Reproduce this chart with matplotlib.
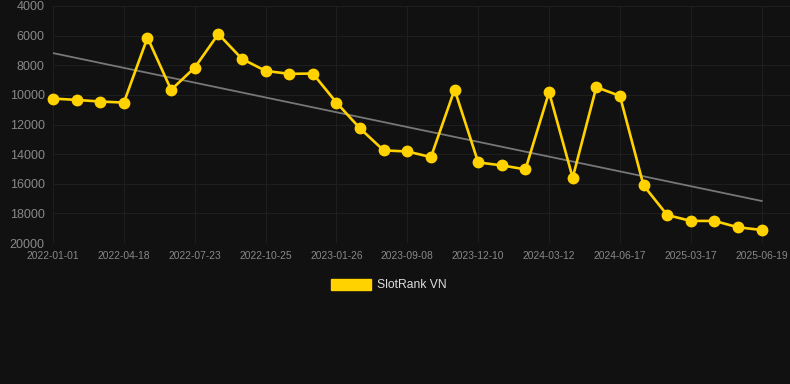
import matplotlib.pyplot as plt
import numpy as np
from matplotlib.patches import Patch

# Dates along x (categorical, evenly spaced), labels every 3rd point
dates = ["2022-01-01", "", "", "2022-04-18", "", "", "2022-07-23", "", "",
         "2022-10-25", "", "", "2023-01-26", "", "", "2023-09-08", "", "",
         "2023-12-10", "", "", "2024-03-12", "", "", "2024-06-17", "", "",
         "2025-03-17", "", "", "2025-06-19"]
ranks = [10250, 10340, 10450, 10520, 6130, 9660, 8160, 5890, 7570, 8380,
         8580, 8560, 10520, 12270, 13750, 13820, 14200, 9640, 14560, 14760,
         15030, 9820, 15590, 9480, 10070, 16110, 18110, 18510, 18510, 18940,
         19120]
series_name = "SlotRank VN"

BG = "#111111"
GOLD = "#FFD200"

x = np.arange(len(ranks))
slope, icpt = np.polyfit(x, ranks, 1)

fig = plt.figure(figsize=(7.9, 3.84), dpi=100, facecolor=BG)
ax = fig.add_axes([53 / 790, 1 - 243 / 384, 737 / 790, 237 / 384])
ax.set_facecolor(BG)

ax.plot(x, slope * x + icpt, color="#777777", lw=1.3, zorder=2)
ax.plot(x, ranks, color=GOLD, lw=1.9, marker="o", ms=7.5, zorder=3, clip_on=False)

ax.set_xlim(0, 31.2)
ax.set_ylim(20000, 4000)
ax.set_yticks(np.arange(4000, 20001, 2000))
tick_idx = [i for i, d in enumerate(dates) if d]
ax.set_xticks(tick_idx)
ax.set_xticklabels([dates[i] for i in tick_idx])

ax.grid(True, color="#1e1e1e", lw=0.8)
for s in ax.spines.values():
    s.set_visible(False)
ax.tick_params(axis="y", colors="#888888", labelsize=9, length=0, pad=6)
ax.tick_params(axis="x", colors="#888888", labelsize=7.4, length=0, pad=6)
for lbl in ax.get_xticklabels() + ax.get_yticklabels():
    lbl.set_family("Liberation Sans")

fig.legend(handles=[Patch(color=GOLD, label=series_name)], loc="center",
           bbox_to_anchor=(0.492, 1 - 285 / 384), frameon=False,
           handlelength=3.3, handleheight=1.0, handletextpad=0.5,
           prop={"family": "Liberation Sans", "size": 8.7}, labelcolor="#dddddd")

fig.savefig("out.png", dpi=100, facecolor=BG)
